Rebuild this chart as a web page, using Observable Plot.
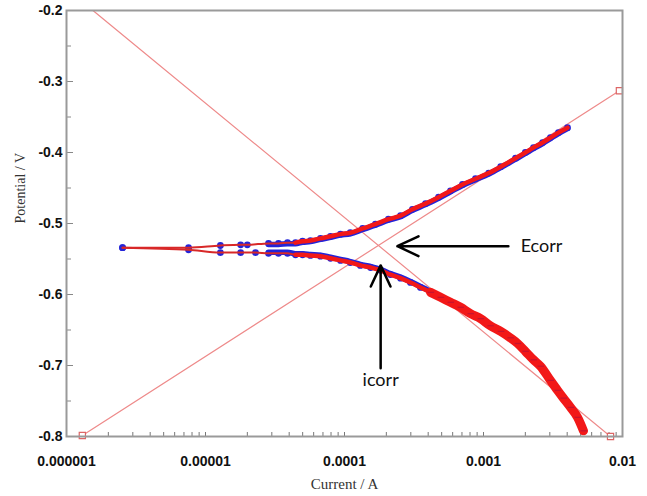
<!DOCTYPE html>
<html><head><meta charset="utf-8">
<script src="https://cdn.jsdelivr.net/npm/d3@7"></script>
<script src="https://cdn.jsdelivr.net/npm/@observablehq/plot@0.6"></script>
<style>body{margin:0;background:#fff}</style>
</head><body><div id="chart"></div>
<script>
// Anodic (upper) branch: current (A), potential (V)
const anodicI = [2.53e-6,7.55e-6,1.28e-5,1.79e-5,2.00e-5,2.84e-5,3.35e-5,3.89e-5,4.44e-5,4.99e-5,5.69e-5,6.72e-5,7.93e-5,9.36e-5,1.10e-4,1.35e-4,1.67e-4,2.07e-4,2.53e-4,3.08e-4,3.83e-4,4.75e-4,5.79e-4,7.06e-4,8.76e-4,1.09e-3,1.33e-3,1.70e-3,2.00e-3,2.29e-3,2.66e-3,3.03e-3,3.46e-3,4.02e-3];
const anodicE = [-0.534,-0.534,-0.531,-0.530,-0.530,-0.528,-0.528,-0.527,-0.527,-0.525,-0.524,-0.521,-0.518,-0.515,-0.513,-0.507,-0.501,-0.494,-0.489,-0.480,-0.472,-0.463,-0.454,-0.445,-0.437,-0.429,-0.420,-0.408,-0.400,-0.393,-0.386,-0.379,-0.372,-0.365];
// Cathodic (lower) branch
const cathodicI = [2.53e-6,7.55e-6,1.28e-5,1.79e-5,2.29e-5,2.84e-5,3.35e-5,3.89e-5,4.44e-5,4.99e-5,5.69e-5,6.72e-5,7.93e-5,9.36e-5,1.10e-4,1.30e-4,1.54e-4,1.82e-4,2.14e-4,2.53e-4,2.98e-4,3.52e-4,4.16e-4,4.91e-4,5.79e-4,6.83e-4,8.06e-4,9.52e-4,1.12e-3,1.33e-3,1.56e-3,1.76e-3,2.00e-3,2.29e-3,2.57e-3,3.03e-3,3.41e-3,3.76e-3,4.23e-3,4.75e-3,5.24e-3];
const cathodicE = [-0.534,-0.537,-0.541,-0.541,-0.541,-0.542,-0.542,-0.542,-0.544,-0.544,-0.545,-0.546,-0.549,-0.552,-0.555,-0.559,-0.562,-0.566,-0.572,-0.577,-0.583,-0.590,-0.597,-0.604,-0.611,-0.618,-0.627,-0.634,-0.644,-0.652,-0.661,-0.669,-0.680,-0.692,-0.701,-0.721,-0.735,-0.746,-0.759,-0.773,-0.792];
// Tafel extrapolation lines (end points)
const tafelAnodicI = [1.30e-6, 9.5e-3];
const tafelAnodicE = [-0.7986, -0.313];
const tafelCathodicI = [1.55e-6, 8.2e-3];
const tafelCathodicE = [-0.2, -0.8];
// Axis ticks
const xTicks = [1e-6, 1e-5, 1e-4, 1e-3, 1e-2];
const xTickLabels = ["0.000001", "0.00001", "0.0001", "0.001", "0.01"];
const yTicks = [-0.2, -0.3, -0.4, -0.5, -0.6, -0.7, -0.8];
const yMinorTicks = [-0.25, -0.35, -0.45, -0.55, -0.65, -0.75];
// Annotations
const ecorrLabel = [{t: "Ecorr", I: 1.85e-3, E: -0.532}];
const icorrLabel = [{t: "icorr", I: 1.82e-4, E: -0.721}];
const arrowI1 = [1.51e-3, 1.82e-4];
const arrowE1 = [-0.532, -0.704];
const arrowI2 = [2.40e-4, 1.82e-4];
const arrowE2 = [-0.532, -0.559];

const anodic = anodicI.map((I, i) => ({I, E: anodicE[i]}));
const cathodic = cathodicI.map((I, i) => ({I, E: cathodicE[i]}));
const allPts = anodic.concat(cathodic);
const tafelA = tafelAnodicI.map((I, i) => ({I, E: tafelAnodicE[i]}));
const tafelC = tafelCathodicI.map((I, i) => ({I, E: tafelCathodicE[i]}));
const tafelEnds = [tafelA[0], tafelA[1], tafelC[1]];
const xMinor = xTicks.slice(0, -1).flatMap(d => [1,2,3,4,5,6,7,8,9].map(k => d * k)).concat([1e-2]);
const arrows = arrowI1.map((I1, i) => ({I1, E1: arrowE1[i], I2: arrowI2[i], E2: arrowE2[i]}));
const labelFmt = d => xTickLabels[xTicks.indexOf(d)];
const dense = cathodic.filter(d => d.I >= 4e-4);

const chart = Plot.plot({
  width: 647, height: 496,
  marginLeft: 66, marginRight: 25, marginTop: 10, marginBottom: 60,
  x: {type: "log", domain: [1e-6, 1e-2]},
  y: {domain: [-0.8, -0.2]},
  style: {background: "white", fontFamily: "Liberation Sans, Arial, sans-serif", overflow: "visible"},
  marks: [
    Plot.tickY(yMinorTicks, {y: d => d, stroke: "#888", insetRight: 551}),
    Plot.tickY(yTicks, {y: d => d, stroke: "#888", insetRight: 549}),
    Plot.tickX(xMinor, {x: d => d, stroke: "#777", insetTop: 422}),
    Plot.axisY({ticks: yTicks, tickSize: 0, tickPadding: 4, tickFormat: d => d.toFixed(1), label: null,
      fontWeight: "bold", fontSize: 14, fill: "#111"}),
    Plot.axisX({ticks: xTicks, tickSize: 0, tickPadding: 20, tickFormat: labelFmt, label: null,
      fontWeight: "bold", fontSize: 14, fill: "#111", letterSpacing: "0.6px"}),
    Plot.line(tafelA, {x: "I", y: "E", stroke: "#ee8a8a", strokeWidth: 1.2, clip: true}),
    Plot.line(tafelC, {x: "I", y: "E", stroke: "#ee8a8a", strokeWidth: 1.2, clip: true}),
    Plot.dot(tafelEnds, {x: "I", y: "E", symbol: "square", r: 3.5, stroke: "#dd6666", fill: "white", strokeWidth: 1.2}),
    Plot.line(anodic.filter(d => d.I >= 2.5e-5), {x: "I", y: "E", stroke: "#2424d8", strokeWidth: 5.5, dy: 1, curve: "monotone-x"}),
    Plot.line(cathodic.filter(d => d.I >= 2.5e-5), {x: "I", y: "E", stroke: "#2424d8", strokeWidth: 5.5, dy: -1, curve: "monotone-x"}),
    Plot.dot(allPts, {x: "I", y: "E", r: 3.4, fill: "#2424d8"}),
    Plot.line(anodic, {x: "I", y: "E", stroke: "#d82828", strokeWidth: 2, curve: "monotone-x"}),
    Plot.line(cathodic, {x: "I", y: "E", stroke: "#d82828", strokeWidth: 2, curve: "monotone-x"}),
    Plot.line(anodic.filter(d => d.I >= 4e-5), {x: "I", y: "E", stroke: "#f21818", strokeWidth: 4.5, curve: "monotone-x"}),
    Plot.line(cathodic.filter(d => d.I >= 4e-5), {x: "I", y: "E", stroke: "#f21818", strokeWidth: 4.5, curve: "monotone-x"}),
    Plot.line(dense, {x: "I", y: "E", stroke: "#f21818", strokeWidth: 9, curve: "monotone-x"}),
    Plot.link(dense, {x1: d => d.I / 1.05, y1: "E", x2: d => d.I * 1.06, y2: "E", stroke: "#a81040", strokeWidth: 1.2, strokeOpacity: 0.6}),
    Plot.frame({stroke: "#9a9a9a", strokeWidth: 2}),
    Plot.arrow(arrows, {x1: "I1", y1: "E1", x2: "I2", y2: "E2", stroke: "black", strokeWidth: 2.5, headLength: 14, headAngle: 50}),
    Plot.text(ecorrLabel, {x: "I", y: "E", text: "t", textAnchor: "start", fontFamily: "Lato, sans-serif", fontSize: 18, fill: "#111"}),
    Plot.text(icorrLabel, {x: "I", y: "E", text: "t", textAnchor: "middle", fontFamily: "Lato, sans-serif", fontSize: 18, fill: "#111"}),
    Plot.text(["Potential / V"], {frameAnchor: "left", dx: -46, rotate: -90, fontFamily: "Liberation Serif, serif", fontSize: 14, fill: "#333"}),
    Plot.text(["Current / A"], {frameAnchor: "bottom", dy: 48, lineAnchor: "middle", fontFamily: "Liberation Serif, serif", fontSize: 15, fill: "#333"})
  ]
});
document.getElementById("chart").appendChild(chart);
</script>
</body></html>
